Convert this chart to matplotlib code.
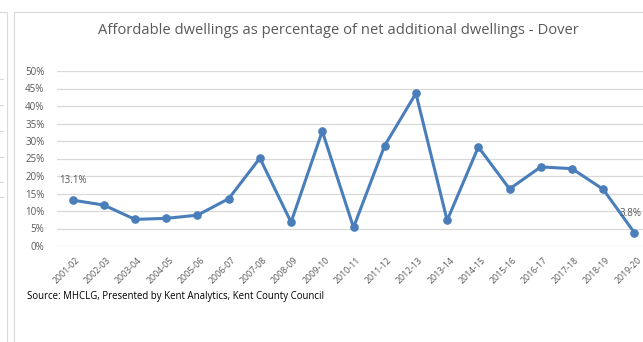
import numpy as np
import matplotlib.pyplot as plt
from matplotlib.patches import Rectangle
from matplotlib.lines import Line2D
from matplotlib.transforms import ScaledTranslation

years = ['2001-02', '2002-03', '2003-04', '2004-05', '2005-06', '2006-07',
         '2007-08', '2008-09', '2009-10', '2010-11', '2011-12', '2012-13',
         '2013-14', '2014-15', '2015-16', '2016-17', '2017-18', '2018-19',
         '2019-20']
affordable_pct = [13.1, 11.7, 7.6, 7.9, 8.8, 13.5, 25.1, 6.8, 32.8, 5.3,
                  28.7, 43.6, 7.3, 28.3, 16.3, 22.6, 22.1, 16.2, 3.8]
labelled = {0: '13.1%', 18: '3.8%'}
y_ticks = [0, 5, 10, 15, 20, 25, 30, 35, 40, 45, 50]

plt.rcParams['font.family'] = ['Open Sans', 'DejaVu Sans']

W, H = 643, 342
fig = plt.figure(figsize=(W / 100, H / 100), dpi=100)
fig.patch.set_facecolor('white')

# neighbouring panel edge on the left
fig.add_artist(Line2D([7 / W, 7 / W], [0, 1 - 12 / H], transform=fig.transFigure,
                      color='#D9D9D9', lw=0.8))
fig.add_artist(Line2D([0, 7 / W], [1 - 12 / H, 1 - 12 / H], transform=fig.transFigure,
                      color='#D9D9D9', lw=0.8))
for yy in [79, 105, 131, 157, 182, 197]:
    fig.add_artist(Line2D([0, 3 / W], [1 - yy / H, 1 - yy / H], transform=fig.transFigure,
                          color='#D9D9D9', lw=0.8))

# chart frame
fig.add_artist(Rectangle((14 / W, -0.1), 1.0, 1.1 - 12 / H, transform=fig.transFigure,
                         fill=False, edgecolor='#D9D9D9', lw=0.8))

ax = fig.add_axes([57 / W, 96 / H, 593 / W, 175 / H])
x = np.arange(len(years))
y = np.array(affordable_pct)
ax.plot(x, y, color='#4A7EBB', lw=2.2, marker='o', markersize=5.2, zorder=3,
        clip_on=False)

for i, txt in labelled.items():
    dx = -3 if i == len(years) - 1 else 0
    ax.annotate(txt, (x[i], y[i]), xytext=(dx, 10), textcoords='offset points',
                ha='center', va='bottom', fontsize=7, color='#595959',
                annotation_clip=False)

ax.set_xlim(-0.5, len(years) - 0.5)
ax.set_ylim(0, 50)
ax.set_yticks(y_ticks)
ax.set_yticklabels([f'{t}%' for t in y_ticks])
ax.set_xticks(x)
ax.set_xticklabels(years, rotation=45, ha='right', va='top', rotation_mode='anchor',
                   fontsize=6.3)
ax.tick_params(axis='both', length=0, labelcolor='#595959')
ax.tick_params(axis='y', pad=9, labelsize=7)
ax.tick_params(axis='x', pad=7)
shift = ScaledTranslation(2.5 / 100, 0, fig.dpi_scale_trans)
for lab in ax.get_xticklabels():
    lab.set_transform(lab.get_transform() + shift)
ax.grid(axis='y', color='#D9D9D9', lw=0.9)
ax.set_axisbelow(True)
for s in ax.spines.values():
    s.set_visible(False)

fig.text(338 / W, 1 - 30 / H, 'Affordable dwellings as percentage of net additional dwellings - Dover',
         ha='center', va='center', fontsize=10.6, color='#595959')
fig.text(27 / W, 1 - 297 / H, 'Source: MHCLG, Presented by Kent Analytics, Kent County Council',
         ha='left', va='center', fontsize=6.9, color='#000000')

fig.savefig('out.png', dpi=100)
